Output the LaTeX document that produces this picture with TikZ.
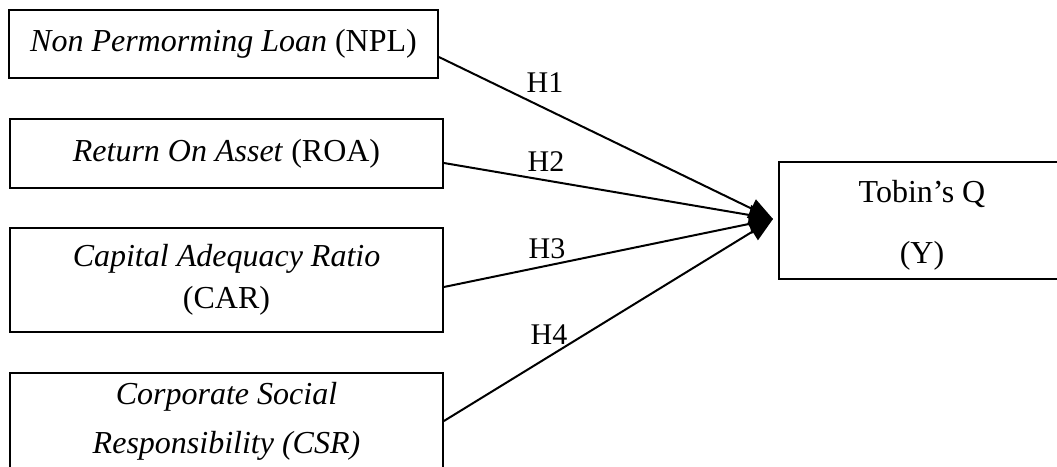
\documentclass[tikz,border=0pt]{standalone}
\usepackage{fontspec}
\setmainfont{Liberation Serif}
\usetikzlibrary{arrows.meta}
\begin{document}
\begin{tikzpicture}[x=1pt,y=-1pt,
  box/.style={draw, line width=1.8pt, align=center, inner sep=0pt,
    font=\fontsize{32}{42}\selectfont},
  conn/.style={line width=2pt, -{Triangle[length=24pt,width=20pt]}},
  hlab/.style={font=\fontsize{30}{36}\selectfont, inner sep=0pt}]
\useasboundingbox (0,0) rectangle (1057,466);
\clip (0,0) rectangle (1057,466);
\node[box, minimum width=429pt, minimum height=68pt] (npl) at (223.5,44)
  {\textit{Non Permorming Loan} (NPL)};
\node[box, minimum width=433pt, minimum height=69pt] (roa) at (226.5,153.5)
  {\textit{Return On Asset} (ROA)};
\node[box, minimum width=433pt, minimum height=104pt] (car) at (226.5,280)
  {\textit{Capital Adequacy Ratio}\\(CAR)};
\node[box, minimum width=433pt, minimum height=96pt] (csr) at (226.5,421)
  {\textit{Corporate Social}\\[7pt]\textit{Responsibility (CSR)}};
\node[box, minimum width=286pt, minimum height=117pt] (y) at (922,220.5)
  {\rule{0pt}{32pt}Tobin's Q\\[19pt](Y)};
\coordinate (tip) at (773,219);
\draw[conn] ([yshift=-13pt]npl.east) -- (tip);
\draw[conn] ([yshift=-9.5pt]roa.east) -- (tip);
\draw[conn] ([yshift=-7pt]car.east) -- (tip);
\draw[conn] (csr.east) -- (tip);
\node[hlab] (h1) at (545,83) {H1};
\node[hlab] (h2) at (546,162) {H2};
\node[hlab] (h3) at (547,249) {H3};
\node[hlab] (h4) at (549,335) {H4};
\end{tikzpicture}
\end{document}
